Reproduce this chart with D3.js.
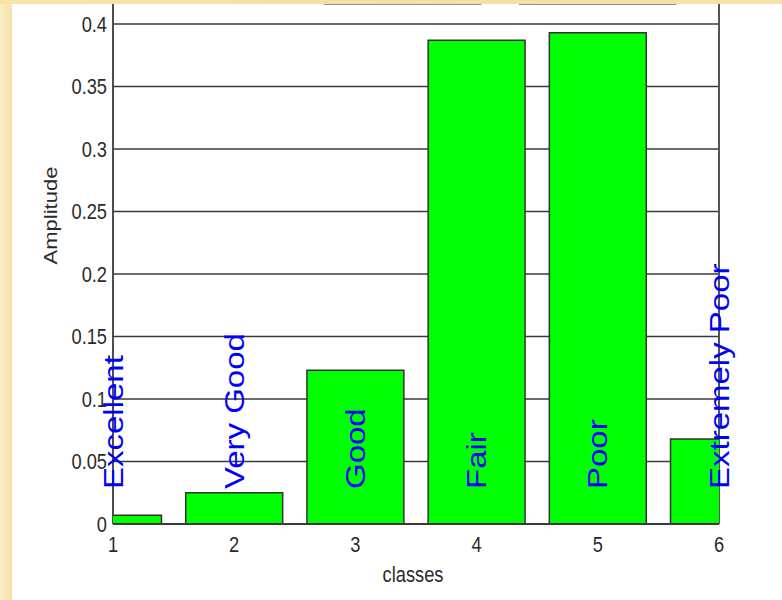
<!DOCTYPE html>
<html>
<head>
<meta charset="utf-8">
<script src="https://cdn.jsdelivr.net/npm/d3@7"></script>
<style>
  html, body { margin: 0; padding: 0; background: #ffffff; }
  svg { display: block; }
  text { font-family: "Liberation Sans", Arial, sans-serif; }
</style>
</head>
<body>
<svg id="chart" width="782" height="600"></svg>
<script>
// Class amplitudes
const classes = [1, 2, 3, 4, 5, 6];
const amplitudes = [0.007, 0.025, 0.123, 0.387, 0.393, 0.068];
const classNames = ["Excellent", "Very Good", "Good", "Fair", "Poor", "Extremely Poor"];
const yTicks = [0, 0.05, 0.1, 0.15, 0.2, 0.25, 0.3, 0.35, 0.4];
const yTickLabels = ["0", "0.05", "0.1", "0.15", "0.2", "0.25", "0.3", "0.35", "0.4"];
const xTicks = [1, 2, 3, 4, 5, 6];
// rule pieces along the upper edge, in data units [x0, x1]
const topRules = [[2.74, 4.04], [4.35, 5.65]];
const topRuleLevel = 0.4165;
const labelBase = 0.028;

const W = 782, H = 600;
const plotLeft = 113, plotRight = 719, plotBottom = 524, plotTop = -101;
const squeeze = 0.83; // horizontal text compression

const svg = d3.select("#chart");

// page background: cream border with white sheet
const defs = svg.append("defs");
const grad = defs.append("linearGradient").attr("id", "cream").attr("x1", 0).attr("x2", 1).attr("y1", 0).attr("y2", 0);
grad.append("stop").attr("offset", "0%").attr("stop-color", "#fbeec6");
grad.append("stop").attr("offset", "100%").attr("stop-color", "#f6e2a8");
const gradTop = defs.append("linearGradient").attr("id", "creamTop").attr("x1", 0).attr("x2", 1).attr("y1", 0).attr("y2", 0);
gradTop.append("stop").attr("offset", "0%").attr("stop-color", "#f7e4ad");
gradTop.append("stop").attr("offset", "50%").attr("stop-color", "#f4dea0");
gradTop.append("stop").attr("offset", "100%").attr("stop-color", "#f6e3ab");

svg.append("rect").attr("x", 0).attr("y", 0).attr("width", W).attr("height", H).attr("fill", "#ffffff");

const x = d3.scaleLinear().domain([1, 6]).range([plotLeft, plotRight]);
const y = d3.scaleLinear().domain([0, 0.5]).range([plotBottom, plotTop]);

defs.append("clipPath").attr("id", "plotClip")
  .append("rect").attr("x", plotLeft).attr("y", 0).attr("width", plotRight - plotLeft).attr("height", plotBottom);

// grid lines
svg.append("g").selectAll("line").data(yTicks.filter(d => d > 0)).join("line")
  .attr("x1", plotLeft).attr("x2", plotRight)
  .attr("y1", d => y(d)).attr("y2", d => y(d))
  .attr("stroke", "#3a3a3a").attr("stroke-width", 1.6);

// axis box sides
svg.append("line").attr("x1", plotLeft).attr("x2", plotLeft).attr("y1", 0).attr("y2", plotBottom)
  .attr("stroke", "#3a3a3a").attr("stroke-width", 1.8);
svg.append("line").attr("x1", plotRight).attr("x2", plotRight).attr("y1", 0).attr("y2", plotBottom)
  .attr("stroke", "#555555").attr("stroke-width", 2);

// upper rule pieces
svg.append("g").selectAll("line").data(topRules).join("line")
  .attr("x1", d => x(d[0])).attr("x2", d => x(d[1]))
  .attr("y1", y(topRuleLevel)).attr("y2", y(topRuleLevel))
  .attr("stroke", "#222").attr("stroke-width", 2);

// bars
const barW = 0.8;
svg.append("g").attr("clip-path", "url(#plotClip)")
  .selectAll("rect").data(classes).join("rect")
  .attr("x", (d) => x(d - barW / 2))
  .attr("y", (d, i) => y(amplitudes[i]))
  .attr("width", x(1 + barW) - x(1))
  .attr("height", (d, i) => y(0) - y(amplitudes[i]))
  .attr("fill", "#00ff00")
  .attr("stroke", "#333333").attr("stroke-width", 1.5);

// baseline
svg.append("line").attr("x1", plotLeft).attr("x2", plotRight).attr("y1", y(0)).attr("y2", y(0))
  .attr("stroke", "#3a3a3a").attr("stroke-width", 1.8);

// y tick labels
svg.append("g").selectAll("text").data(yTicks).join("text")
  .attr("transform", d => `translate(${plotLeft - 6},${y(d)}) scale(${squeeze},1)`)
  .attr("text-anchor", "end").attr("dy", "0.36em")
  .attr("font-size", 22).attr("fill", "#2a2a2a")
  .text((d, i) => yTickLabels[i]);

// x tick labels
svg.append("g").selectAll("text").data(xTicks).join("text")
  .attr("transform", d => `translate(${x(d)},${plotBottom + 28}) scale(${squeeze},1)`)
  .attr("text-anchor", "middle")
  .attr("font-size", 22).attr("fill", "#2a2a2a")
  .text(d => d);

// axis titles
svg.append("text")
  .attr("transform", `translate(${(plotLeft + plotRight) / 2 - 3},${plotBottom + 58}) scale(${squeeze},1)`)
  .attr("text-anchor", "middle").attr("font-size", 22).attr("fill", "#2a2a2a")
  .text("classes");
svg.append("text")
  .attr("transform", `translate(${57},${(y.range()[0] + y.range()[1]) / 2 + 4}) scale(${squeeze},1) rotate(-90)`)
  .attr("text-anchor", "middle").attr("font-size", 22).attr("fill", "#2a2a2a")
  .text("Amplitude");

// class name labels
svg.append("g").selectAll("text").data(classes).join("text")
  .attr("transform", d => `translate(${x(d)},${y(labelBase)}) scale(${squeeze},1) rotate(-90)`)
  .attr("text-anchor", "start").attr("dy", "0.35em")
  .attr("font-size", 33).attr("fill", "#0000ff")
  .text((d, i) => classNames[i]);

// cream border on top of everything
svg.append("rect").attr("x", 0).attr("y", 0).attr("width", 12).attr("height", H).attr("fill", "url(#cream)");
svg.append("rect").attr("x", 0).attr("y", 0).attr("width", W).attr("height", 4).attr("fill", "url(#creamTop)");
</script>
</body>
</html>
